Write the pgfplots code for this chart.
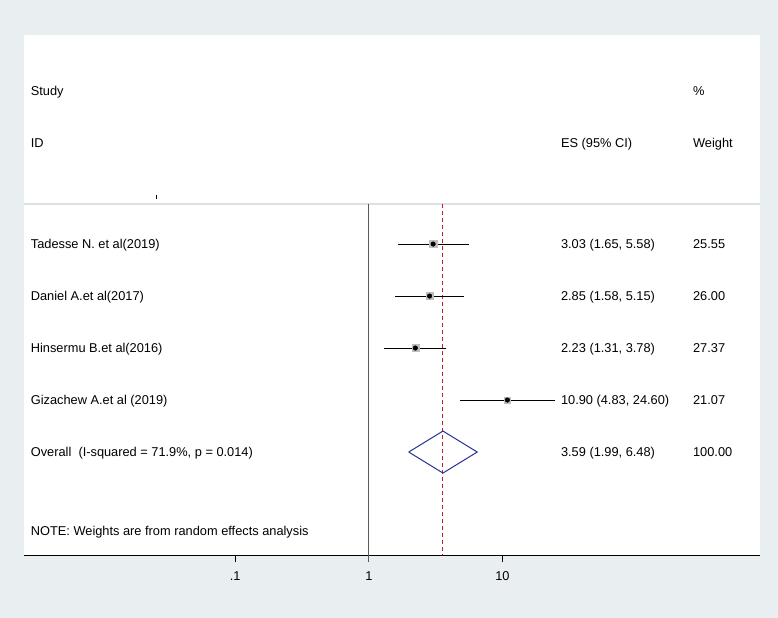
\documentclass[border=0pt]{standalone}
\usepackage{pgfplots}
\pgfplotsset{compat=1.18}
\usepackage{fontspec}
\setmainfont{Liberation Sans}
\definecolor{bgc}{RGB}{233,238,240}
\definecolor{sepc}{RGB}{218,226,230}
\definecolor{diac}{RGB}{40,50,150}
\definecolor{redc}{RGB}{190,30,45}
\definecolor{boxc}{RGB}{190,190,190}
\definecolor{refc}{RGB}{90,90,90}
\tikzset{txt/.style={anchor=base west, inner sep=0}}
\begin{document}
\fontsize{12.8bp}{15bp}\selectfont
\begin{tikzpicture}[x=1bp,y=1bp]
\fill[bgc] (0,0) rectangle (778,618);
\useasboundingbox (0,0) rectangle (778,618);
\fill[white] (24,63) rectangle (760,583);
\begin{axis}[at={(24bp,63bp)}, anchor=south west, scale only axis,
  width=736bp, height=520bp,
  xmode=log, xmin=0.00262, xmax=849, ymin=-3.02, ymax=6.98, y dir=reverse,
  axis x line=bottom, axis y line=none,
  axis line style={-, black, line width=1bp},
  xtick={0.1,1,10}, xticklabels={.1,1,10}, xminorticks=false,
  tick align=outside, major tick length=7bp,
  tick style={black, line width=0.8bp},
  xticklabel style={font=\fontsize{12.8bp}{15bp}\selectfont, yshift=-5bp},
  /pgf/number format/assume math mode=true,
  clip=false]
% separator and reference lines
\draw[sepc, line width=1.5bp] (axis cs:0.00262,0.23) -- (axis cs:849,0.23);
\draw[black, line width=0.8bp] (axis cs:0.0258,0.06) -- (axis cs:0.0258,0.135);
\addplot[draw=refc, line width=1.2bp] coordinates {(1,0.23) (1,7.115)};
\addplot[draw=redc, line width=1bp, dash pattern=on 4bp off 3bp] coordinates {(3.59,0.23) (3.59,6.98)};
% confidence intervals
\addplot[black, line width=0.8bp] coordinates {(1.65,1) (5.58,1)};
\addplot[black, line width=0.8bp] coordinates {(1.58,2) (5.15,2)};
\addplot[black, line width=0.8bp] coordinates {(1.31,3) (3.78,3)};
\addplot[black, line width=0.8bp] coordinates {(4.83,4) (24.60,4)};
% weight boxes
\addplot[only marks, mark=square*, mark size=3.6bp, mark options={fill=boxc, draw=boxc}] coordinates {(3.03,1) (2.85,2) (2.23,3)};
\addplot[only marks, mark=square*, mark size=3.0bp, mark options={fill=boxc, draw=boxc}] coordinates {(10.90,4)};
% point estimates
\addplot[only marks, mark=*, mark size=2.3bp, mark options={fill=black, draw=black}] coordinates {(3.03,1) (2.85,2) (2.23,3) (10.90,4)};
% overall diamond
\addplot[draw=diac, line width=1bp] coordinates {(1.99,5) (3.59,4.596) (6.48,5) (3.59,5.404) (1.99,5)};
% text columns
\path (axis cs:0.00294,-1.852) node[txt] {Study};
\path (axis cs:0.00294,-0.852) node[txt] {ID};
\path (axis cs:27.4,-0.852) node[txt] {ES (95\% CI)};
\path (axis cs:267,-1.852) node[txt] {\%};
\path (axis cs:267,-0.852) node[txt] {Weight};
\path (axis cs:0.00294,1.088) node[txt] {Tadesse N. et al(2019)};
\path (axis cs:0.00294,2.088) node[txt] {Daniel A.et al(2017)};
\path (axis cs:0.00294,3.088) node[txt] {Hinsermu B.et al(2016)};
\path (axis cs:0.00294,4.088) node[txt] {Gizachew A.et al (2019)};
\path (axis cs:0.00294,5.088) node[txt] {Overall\ \ (I-squared = 71.9\%, p = 0.014)};
\path (axis cs:0.00294,6.607) node[txt] {NOTE: Weights are from random effects analysis};
\path (axis cs:27.4,1.088) node[txt] {3.03 (1.65, 5.58)};
\path (axis cs:27.4,2.088) node[txt] {2.85 (1.58, 5.15)};
\path (axis cs:27.4,3.088) node[txt] {2.23 (1.31, 3.78)};
\path (axis cs:27.4,4.088) node[txt] {10.90 (4.83, 24.60)};
\path (axis cs:27.4,5.088) node[txt] {3.59 (1.99, 6.48)};
\path (axis cs:267,1.088) node[txt] {25.55};
\path (axis cs:267,2.088) node[txt] {26.00};
\path (axis cs:267,3.088) node[txt] {27.37};
\path (axis cs:267,4.088) node[txt] {21.07};
\path (axis cs:267,5.088) node[txt] {100.00};
\end{axis}
\end{tikzpicture}
\end{document}
